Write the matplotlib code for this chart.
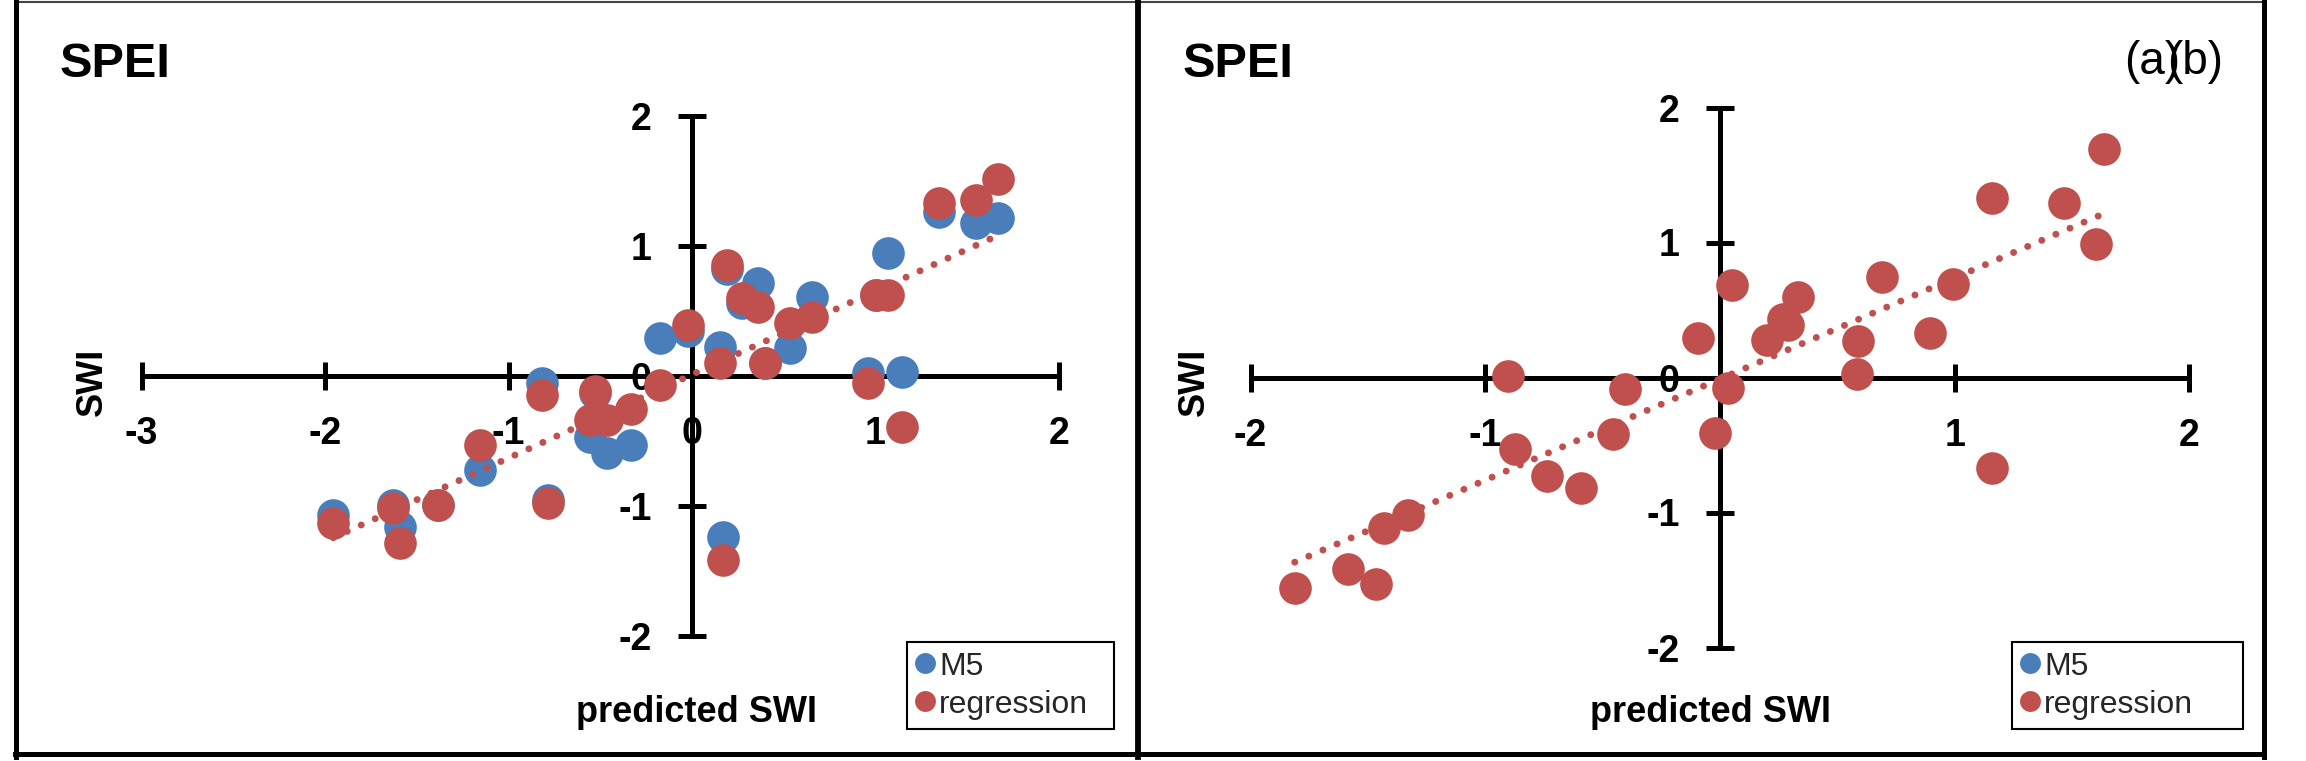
import numpy as np
import matplotlib
matplotlib.use("Agg")
import matplotlib.pyplot as plt
from matplotlib.lines import Line2D

plt.rcParams['font.family'] = ['Liberation Sans', 'DejaVu Sans']

# ---------------- data ----------------
left_x = [-1.955, -1.628, -1.591, -1.382, -1.155, -0.819, -0.783, -0.556, -0.465, -0.529,
          -0.330, -0.174, -0.020, 0.153, 0.171, 0.193, 0.270, 0.361, 0.398, 0.534,
          0.652, 0.961, 1.000, 1.070, 1.143, 1.348, 1.548, 1.669]
left_m5 = [-1.069, -0.990, -1.159, -0.990, -0.723, -0.050, -0.950, -0.467, -0.595, -0.130,
           -0.530, 0.290, 0.350, 0.226, -1.236, 0.820, 0.560, 0.713, 0.100, 0.213,
           0.610, 0.020, 0.620, 0.944, 0.033, 1.264, 1.174, 1.213]
left_reg = [-1.133, -1.018, -1.287, -0.990, -0.531, -0.146, -0.980, -0.338, -0.338, -0.113,
            -0.250, -0.070, 0.390, 0.097, -1.415, 0.854, 0.600, 0.533, 0.097, 0.405,
            0.456, -0.056, 0.620, 0.623, -0.390, 1.328, 1.354, 1.513]
left_trend = [0.642, 0.011]          # slope, intercept

right_x = [-1.812, -1.585, -1.464, -1.433, -1.329, -0.903, -0.874, -0.736, -0.594, -0.455,
           -0.405, -0.092, -0.021, 0.035, 0.050, 0.199, 0.270, 0.291, 0.333, 0.582,
           0.589, 0.692, 0.896, 0.993, 1.160, 1.160, 1.464, 1.603, 1.638]
right_reg = [-1.558, -1.422, -1.533, -1.114, -1.015, 0.010, -0.533, -0.731, -0.817, -0.415,
             -0.084, 0.294, -0.410, -0.080, 0.685, 0.278, 0.430, 0.389, 0.594, 0.026,
             0.273, 0.742, 0.332, 0.690, 1.327, -0.673, 1.295, 0.989, 1.690]
right_m5 = []
right_trend = [0.749, -0.011]

left_xticks = [-3, -2, -1, 0, 1, 2]
right_xticks = [-2, -1, 0, 1, 2]
yticks = [-2, -1, 0, 1, 2]
title_text = "SPEI"
x_label = "predicted SWI"
y_label = "SWI"
series_names = ["M5", "regression"]

BLUE = "#4A7EBB"
RED = "#C0504D"

W, H = 2306, 761
fig = plt.figure(figsize=(W / 100, H / 100), dpi=100)
fig.patch.set_facecolor("white")


def fx(px):
    return px / W


def fy(py):
    return 1 - py / H


def make_panel(x_left, x_right, ox, oy, ux, uy, xticks, xs, m5, reg, trend,
               xs_m5, title_x, ylab_x, xlab_x, leg_box):
    top, bot = 4, 751
    ax = fig.add_axes([fx(x_left), fy(bot), (x_right - x_left) / W, (bot - top) / H])
    ax.set_xlim((x_left - ox) / ux, (x_right - ox) / ux)
    ax.set_ylim((oy - bot) / uy, (oy - top) / uy)
    ax.patch.set_alpha(0)
    for s in ["top", "right"]:
        ax.spines[s].set_visible(False)
    for s in ["left", "bottom"]:
        ax.spines[s].set_position(("data", 0))
        ax.spines[s].set_linewidth(3.6)
        ax.spines[s].set_color("black")
    ax.spines["bottom"].set_bounds(min(xticks), max(xticks))
    ax.spines["left"].set_bounds(min(yticks), max(yticks))
    ax.set_xticks(xticks, labels=[str(t) for t in xticks], fontweight="bold")
    ax.set_yticks(yticks, labels=[str(t) for t in yticks], fontweight="bold")
    ax.tick_params(direction="inout", length=20, width=3.6, pad=19,
                   labelsize=27, colors="black")

    ax.plot(xs_m5, m5, "o", ms=23.5, color=BLUE, mec="none", label=series_names[0],
            zorder=3, clip_on=False)
    ax.plot(xs, reg, "o", ms=23.5, color=RED, mec="none", label=series_names[1],
            zorder=4, clip_on=False)
    tx = np.array([min(xs), max(xs)])
    ax.plot(tx, trend[0] * tx + trend[1], color=RED, lw=5,
            linestyle=(0, (0.01, 2.2)), dash_capstyle="round", zorder=5)

    leg = ax.legend(loc="upper left", bbox_to_anchor=(fx(leg_box[0]), fy(leg_box[3]),
                                                      (leg_box[1] - leg_box[0]) / W,
                                                      (leg_box[3] - leg_box[2]) / H),
                    bbox_transform=fig.transFigure, mode="expand", frameon=True,
                    fancybox=False, edgecolor="black", framealpha=1, fontsize=23,
                    markerscale=0.64, handlelength=0.5, handletextpad=0.2,
                    borderpad=0.3, labelspacing=0.25, borderaxespad=0)
    leg.get_frame().set_linewidth(1.5)
    for t in leg.get_texts():
        t.set_color("#262626")

    fig.text(fx(title_x), fy(77), title_text, fontsize=35, fontweight="bold",
             ha="left", va="baseline")
    fig.text(fx(ylab_x), fy(382), y_label, fontsize=26, fontweight="bold",
             rotation=90, ha="center", va="center")
    fig.text(fx(xlab_x), fy(722), x_label, fontsize=26, fontweight="bold",
             ha="center", va="baseline")
    return ax


make_panel(18, 1135, 692, 376, 183.5, 130, left_xticks, left_x, left_m5, left_reg,
           left_trend, left_x, 60, 92, 697, (907, 1114, 642, 733))
make_panel(1141, 2261, 1720, 377.5, 234.7, 135, right_xticks, right_x, right_m5,
           right_reg, right_trend, [], 1183, 1194, 1711, (2012, 2243, 642, 731))

fig.text(fx(2124), fy(74), "(a)", fontsize=33, ha="left", va="baseline")
fig.text(fx(2223), fy(74), "(b)", fontsize=33, ha="right", va="baseline")

# panel frames
def hline(x0, x1, y, lw, color="black"):
    fig.add_artist(Line2D([fx(x0), fx(x1)], [fy(y), fy(y)], lw=lw, color=color,
                          transform=fig.transFigure, zorder=10))


def vline(x, y0, y1, lw, color="black"):
    fig.add_artist(Line2D([fx(x), fx(x)], [fy(y0), fy(y1)], lw=lw, color=color,
                          transform=fig.transFigure, zorder=10))


hline(15, 2264, 1.5, 1.5, "#444444")
hline(15, 2264, 754, 3.6)
vline(15.5, 0, 757, 3.6)
vline(1138, 0, 757, 4.2)
vline(2264, 0, 757, 3.6)

fig.savefig("out.png", dpi=100, facecolor="white")
